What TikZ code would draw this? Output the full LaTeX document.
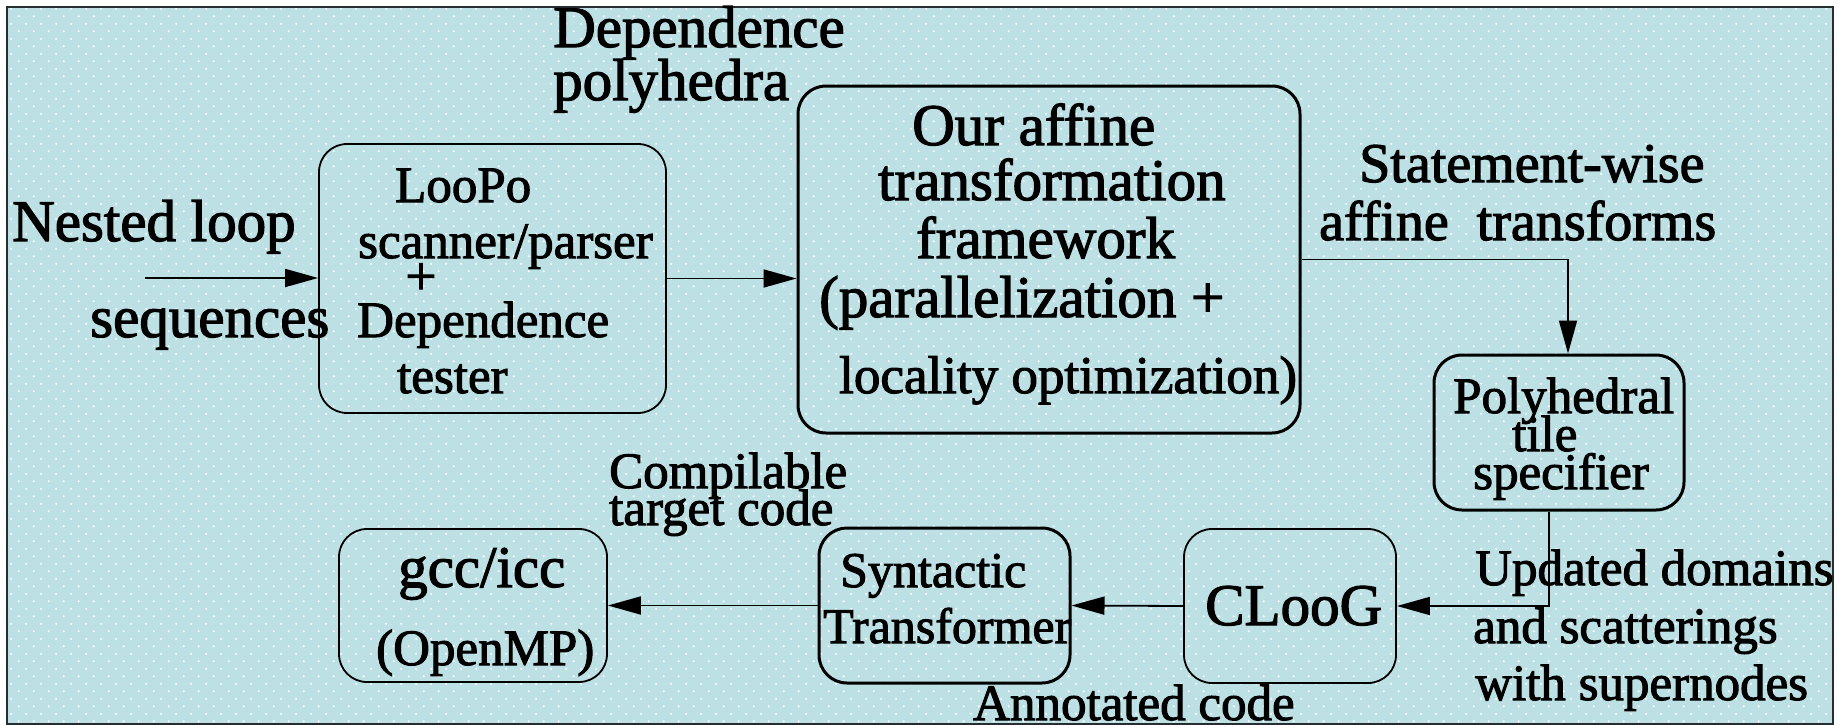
\documentclass[tikz,border=0pt]{standalone}
\usepackage{fontspec}
\setmainfont{Liberation Serif}[FakeBold=2]
\usetikzlibrary{arrows.meta,patterns}
\definecolor{bgcyan}{RGB}{188,224,228}
\definecolor{framegray}{RGB}{40,45,48}
% staggered grid of small dots for the backdrop
\pgfdeclarepatternformonly{bgdots}{\pgfpointorigin}{\pgfpoint{15.4pt}{15.4pt}}{\pgfpoint{15.4pt}{15.4pt}}{%
  \pgfpathcircle{\pgfpoint{3.85pt}{3.85pt}}{1.2pt}%
  \pgfpathcircle{\pgfpoint{11.55pt}{11.55pt}}{1.2pt}%
  \pgfusepath{fill}}
\newcommand\fsz[1]{\fontsize{#1}{#1}\selectfont}

\begin{document}
\begin{tikzpicture}[x=1pt,y=-1pt,
  box/.style={draw, rounded corners=28pt, line width=1.8pt, inner sep=0pt},
  thickbox/.style={box, line width=3pt},
  txt/.style={inner sep=0pt, anchor=base west},
  conn/.style={line width=1.8pt, -{Triangle[length=33pt,width=18pt]}},
  big/.style={font=\fsz{59}},
  mid/.style={font=\fsz{51}},
]
\useasboundingbox (0,0) rectangle (1844,725);
\fill[white] (0,0) rectangle (1844,725);
\fill[bgcyan] (7,7) rectangle (1833,724);
\fill[pattern=bgdots, pattern color=white, opacity=0.95] (7,7) rectangle (1833,724);
\draw[framegray, line width=1.5pt] (7,7) rectangle (1833,724);

% processing stages
\node[box, minimum width=347pt, minimum height=269pt] (loopo) at (492.5,278.5) {};
\node[thickbox, minimum width=502pt, minimum height=347pt] (affine) at (1049,259.5) {};
\node[thickbox, minimum width=250pt, minimum height=155pt] (poly) at (1559,432.5) {};
\node[box, minimum width=212pt, minimum height=154pt] (cloog) at (1290,606) {};
\node[thickbox, minimum width=251pt, minimum height=155pt] (syn) at (944.5,605.5) {};
\node[box, minimum width=268pt, minimum height=153pt] (gcc) at (473,605.5) {};

% stage contents
\node[txt,mid] at (395,202) {LooPo};
\node[txt,mid] at (358,258) {scanner/parser};
\node[inner sep=0pt, font=\fsz{55}] at (421,279) {+};
\node[txt,mid] at (357,337) {Dependence};
\node[txt,mid] at (397,393) {tester};

\node[txt,big] at (912,145) {Our affine};
\node[txt,big] at (878,200) {transformation};
\node[txt,big] at (916,258) {framework};
\node[txt,big] at (819,317) {(parallelization +};
\node[txt,font=\fsz{53}] at (839,393) {locality optimization)};

\node[txt,mid] at (1453,413) {Polyhedral};
\node[txt,mid] at (1512,451) {tile};
\node[txt,mid] at (1473,489) {specifier};

\node[txt,big] at (1205,625) {CLooG};

\node[txt,font=\fsz{50}] at (840,587) {Syntactic};
\node[txt,font=\fsz{50}] at (823,643) {Transformer};

\node[txt,big] at (398,587) {gcc/icc};
\node[txt,mid] at (376,665) {(OpenMP)};

% labels on the flow
\node[txt,big] at (12,241) {Nested loop};
\node[txt,big] at (90,337) {sequences};
\node[txt,big] at (553,47) {Dependence};
\node[txt,big] at (553,100) {polyhedra};
\node[txt,font=\fsz{56}] at (1359,182) {Statement-wise};
\node[txt,font=\fsz{56}] at (1319,240) {affine\ \ transforms};
\node[txt,mid] at (1475,585) {Updated domains};
\node[txt,mid] at (1473,643) {and scatterings};
\node[txt,mid] at (1475,700) {with supernodes};
\node[txt,mid] at (609,488) {Compilable};
\node[txt,mid] at (609,525) {target code};
\node[txt,mid] at (973,720) {Annotated code};

% connectors
\coordinate (src) at (145,278);
\draw[conn] (src) -- (src -| loopo.west);
\draw[conn] (loopo.east) -- (loopo.east -| affine.west);
\draw[conn] (affine.east) -| ([xshift=9pt]poly.north);
\draw[conn] ([xshift=-10pt]poly.south) |- (cloog.east);
\draw[conn] (cloog.west) -- (syn.east);
\draw[conn] (syn.west) -- (gcc.east);
\end{tikzpicture}
\end{document}
